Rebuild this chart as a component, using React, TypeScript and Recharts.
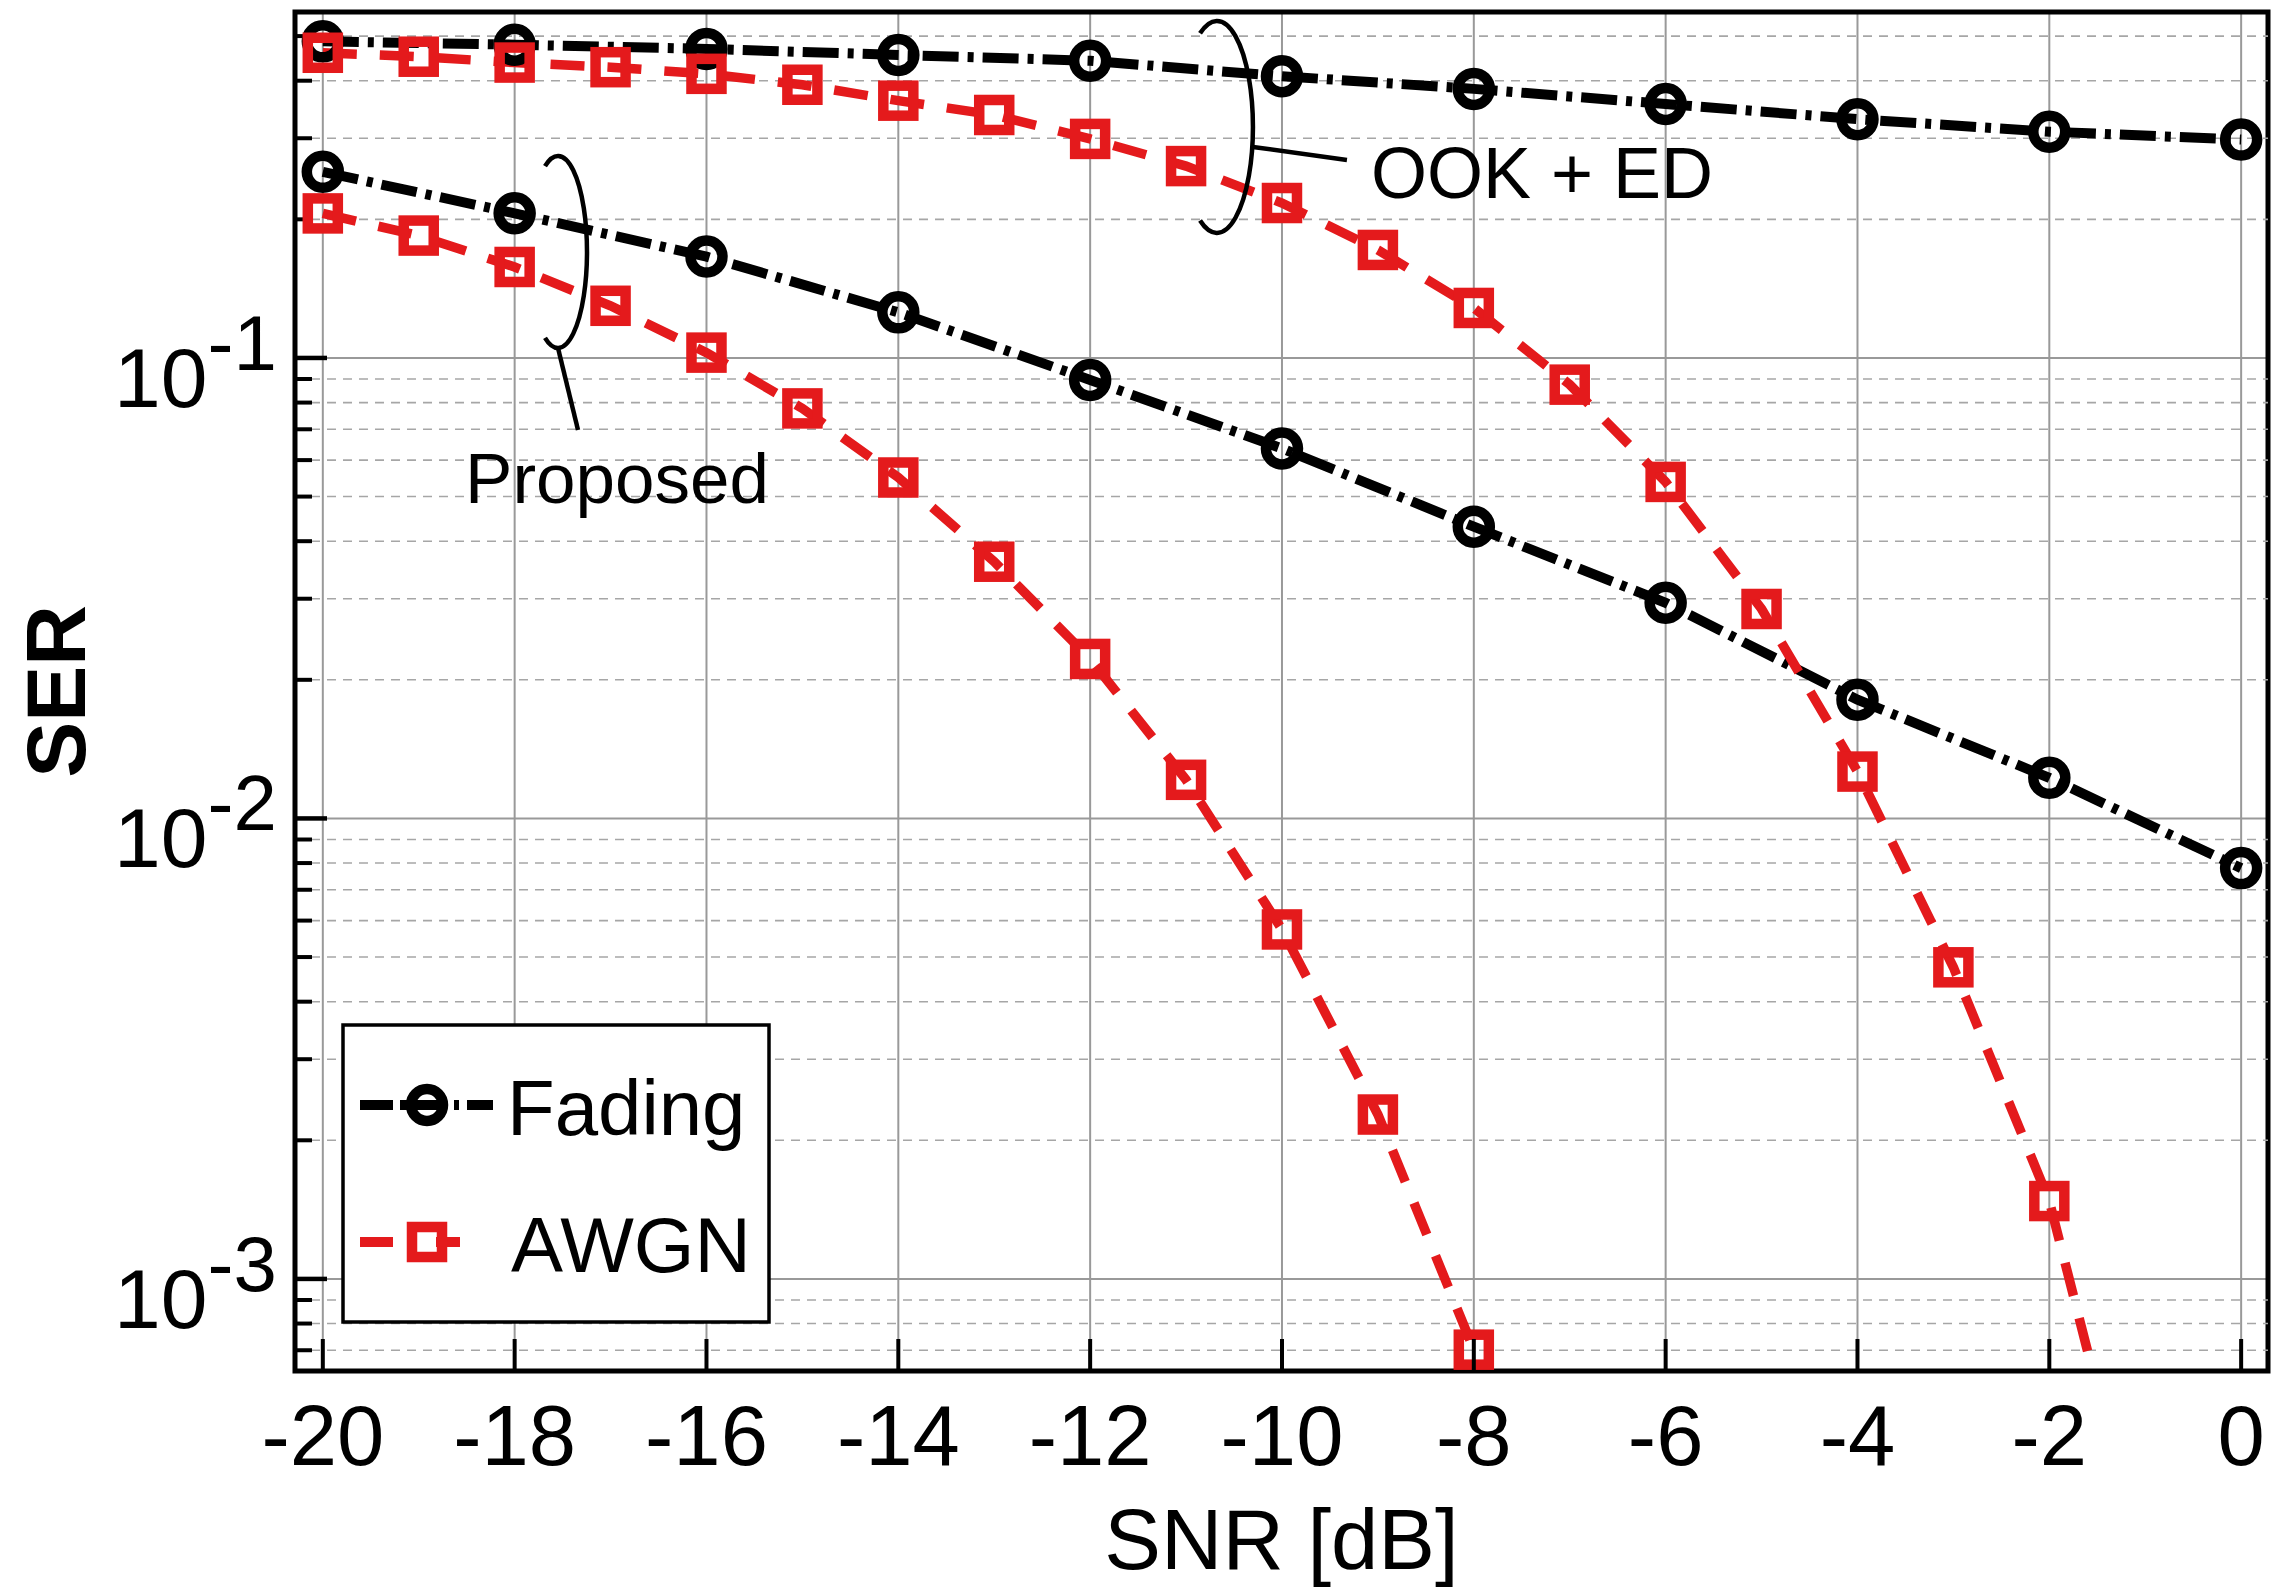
import React from 'react'
import {
  LineChart,
  Line,
  XAxis,
  YAxis,
  CartesianGrid,
  ReferenceLine,
  ReferenceArea,
  ReferenceDot,
} from 'recharts'

const FONT = '"Liberation Sans", Arial, Helvetica, sans-serif'
const RED = '#e41a1c'

// axis ranges
const X_MIN = -20.29
const X_MAX = 0.28
const Y_MIN = 6.31e-4
const Y_MAX = 0.564

const X_TICKS = [-20, -18, -16, -14, -12, -10, -8, -6, -4, -2, 0]
const Y_TICKS = [0.001, 0.01, 0.1]
const Y_MINOR = [
  0.0007, 0.0008, 0.0009,
  0.002, 0.003, 0.004, 0.005, 0.006, 0.007, 0.008, 0.009,
  0.02, 0.03, 0.04, 0.05, 0.06, 0.07, 0.08, 0.09,
  0.2, 0.3, 0.4, 0.5,
]

// SNR grids
const snrEvery2 = [-20, -18, -16, -14, -12, -10, -8, -6, -4, -2, 0]
const snrOokAwgn = [-20, -19, -18, -17, -16, -15, -14, -13, -12, -11, -10, -9, -8, -7, -6, -5, -4, -3, -2, -1]
const snrPropAwgn = [-20, -19, -18, -17, -16, -15, -14, -13, -12, -11, -10, -9, -8]

// SER values
const serOokFading = [0.487, 0.479, 0.469, 0.455, 0.442, 0.409, 0.384, 0.356, 0.33, 0.31, 0.298]
const serOokAwgn = [
  0.46, 0.451, 0.438, 0.428, 0.414, 0.392, 0.362, 0.337, 0.299, 0.261,
  0.217, 0.1716, 0.1284, 0.0875, 0.0538, 0.0285, 0.01264, 0.00475, 0.001476, 0.000225,
]
const serPropFading = [0.2536, 0.2061, 0.166, 0.1256, 0.0896, 0.0636, 0.043, 0.0294, 0.01811, 0.01225, 0.0078]
const serPropAwgn = [
  0.206, 0.1844, 0.1576, 0.1298, 0.1027, 0.0777, 0.055, 0.0361, 0.0222, 0.01213,
  0.00574, 0.002275, 0.000702,
]

const toPoints = (snr: number[], ser: number[]) => snr.map((s, i) => ({ snr: s, ser: ser[i] }))

const ookFading = toPoints(snrEvery2, serOokFading)
const ookAwgn = toPoints(snrOokAwgn, serOokAwgn)
const propFading = toPoints(snrEvery2, serPropFading)
const propAwgn = toPoints(snrPropAwgn, serPropAwgn)

const renderCircle = (props: any) => {
  const { cx, cy, index } = props
  if (cx == null || cy == null) return <g key={`c-${index}`} />
  return <circle key={`c-${index}`} cx={cx} cy={cy} r={16} fill="none" stroke="#000" strokeWidth={10.5} />
}

const renderSquare = (props: any) => {
  const { cx, cy, index } = props
  if (cx == null || cy == null) return <g key={`s-${index}`} />
  return (
    <rect key={`s-${index}`} x={cx - 15} y={cy - 15} width={30} height={30} fill="none" stroke={RED} strokeWidth={10.5} />
  )
}

const renderXTick = (props: any) => {
  const { x, y, payload } = props
  return (
    <g>
      <line x1={x} x2={x} y1={y} y2={y - 32} stroke="#000" strokeWidth={4} />
      <text x={x} y={y + 94} textAnchor="middle" fontSize={85} fontFamily={FONT} fill="#000">
        {payload.value}
      </text>
    </g>
  )
}

const renderYTick = (props: any) => {
  const { x, y, payload } = props
  const exp = Math.round(Math.log10(payload.value))
  return (
    <g>
      <line x1={x} x2={x + 32} y1={y} y2={y} stroke="#000" strokeWidth={4.5} />
      <text x={x - 181} y={y + 49} fontSize={84} fontFamily={FONT} fill="#000">
        10
        <tspan dy={-37} fontSize={78}>{exp}</tspan>
      </text>
    </g>
  )
}

const MinorGrid = (p: any) => {
  const left = Math.min(p.x1, p.x2)
  const right = Math.max(p.x1, p.x2)
  return (
    <g>
      <line x1={left} x2={right} y1={p.y1} y2={p.y1} stroke="#a6a6a6" strokeWidth={1.6} strokeDasharray="9 7" />
      <line x1={left} x2={left + 17} y1={p.y1} y2={p.y1} stroke="#000" strokeWidth={4} />
    </g>
  )
}

const bracketPath = (cx: number, cy: number, rx: number, ry: number, deg: number) => {
  const a = (deg * Math.PI) / 180
  const x0 = cx + rx * Math.cos(a)
  const dy = ry * Math.sin(a)
  return `M ${x0} ${cy - dy} A ${rx} ${ry} 0 1 1 ${x0} ${cy + dy}`
}

const OokNote = (props: any) => {
  const { cx, cy } = props
  return (
    <g>
      <path d={bracketPath(cx, cy, 36, 106, 118)} fill="none" stroke="#000" strokeWidth={4.5} />
      <line x1={cx + 36} y1={cy + 20} x2={cx + 130} y2={cy + 33} stroke="#000" strokeWidth={4.5} />
      <text x={cx + 154} y={cy + 71} fontSize={72} fontFamily={FONT} fill="#000">
        OOK + ED
      </text>
    </g>
  )
}

const ProposedNote = (props: any) => {
  const { cx, cy } = props
  return (
    <g>
      <path d={bracketPath(cx, cy, 29, 96, 116.6)} fill="none" stroke="#000" strokeWidth={4.5} />
      <line x1={cx} y1={cy + 96} x2={cx + 20} y2={cy + 178} stroke="#000" strokeWidth={4.5} />
      <text x={cx + 59} y={cy + 251} textAnchor="middle" fontSize={71} fontFamily={FONT} fill="#000">
        Proposed
      </text>
    </g>
  )
}

const renderYTitle = (props: any) => {
  const vb = props.viewBox
  const cx = vb.x + 56
  const cy = vb.y + vb.height / 2
  return (
    <text
      x={cx}
      y={cy}
      transform={`rotate(-90 ${cx} ${cy})`}
      textAnchor="middle"
      dominantBaseline="central"
      fontSize={84}
      fontWeight="bold"
      fontFamily={FONT}
      fill="#000"
    >
      SER
    </text>
  )
}

const renderXTitle = (props: any) => {
  const vb = props.viewBox
  return (
    <text x={vb.x + vb.width / 2} y={vb.y + 198} textAnchor="middle" fontSize={85} fontFamily={FONT} fill="#000">
      SNR [dB]
    </text>
  )
}

const LegendBox = () => (
  <div style={{ position: 'absolute', left: 341, top: 1023 }}>
    <svg width={430} height={301}>
      <rect x={2} y={2} width={426} height={297} fill="#fff" stroke="#000" strokeWidth={3.5} />
      <g stroke="#000" strokeWidth={10}>
        <line x1={19} x2={52} y1={82} y2={82} />
        <line x1={59} x2={98} y1={82} y2={82} />
        <line x1={113} x2={118} y1={82} y2={82} />
        <line x1={126} x2={152} y1={82} y2={82} />
      </g>
      <circle cx={86} cy={82} r={16} fill="none" stroke="#000" strokeWidth={10.5} />
      <g stroke={RED} strokeWidth={10}>
        <line x1={19} x2={52} y1={219} y2={219} />
        <line x1={95} x2={119} y1={219} y2={219} />
      </g>
      <rect x={71} y={204} width={30} height={30} fill="none" stroke={RED} strokeWidth={10.5} />
      <text x={166} y={112} fontSize={78} fontFamily={FONT} fill="#000">Fading</text>
      <text x={170} y={249} fontSize={78} fontFamily={FONT} fill="#000">AWGN</text>
    </svg>
  </div>
)

export default function App() {
  return (
    <div style={{ position: 'relative', width: 2282, height: 1590, background: '#fff' }}>
      <style>{'body{margin:0}'}</style>
      <LineChart width={2282} height={1590} margin={{ top: 12, right: 14, bottom: 0, left: 0 }}>
        <CartesianGrid stroke="#999" strokeWidth={2} fill="none" />
        <XAxis
          dataKey="snr"
          type="number"
          domain={[X_MIN, X_MAX]}
          ticks={X_TICKS}
          interval={0}
          allowDataOverflow
          height={219}
          axisLine={false}
          tickLine={false}
          tickSize={0}
          tickMargin={0}
          tick={renderXTick}
          label={renderXTitle}
        />
        <YAxis
          type="number"
          scale="log"
          domain={[Y_MIN, Y_MAX]}
          ticks={Y_TICKS}
          interval={0}
          allowDataOverflow
          width={295}
          axisLine={false}
          tickLine={false}
          tickSize={0}
          tickMargin={0}
          tick={renderYTick}
          label={renderYTitle}
        />
        {Y_MINOR.map((v) => (
          <ReferenceLine key={`minor-${v}`} y={v} shape={MinorGrid} />
        ))}
        <Line
          data={propFading}
          dataKey="ser"
          type="linear"
          stroke="#000"
          strokeWidth={10}
          strokeDasharray="36 9 6 9"
          dot={renderCircle}
          activeDot={false}
          isAnimationActive={false}
        />
        <Line
          data={ookFading}
          dataKey="ser"
          type="linear"
          stroke="#000"
          strokeWidth={10}
          strokeDasharray="36 9 6 9"
          dot={renderCircle}
          activeDot={false}
          isAnimationActive={false}
        />
        <Line
          data={propAwgn}
          dataKey="ser"
          type="linear"
          stroke={RED}
          strokeWidth={9.5}
          strokeDasharray="34 23"
          dot={renderSquare}
          activeDot={false}
          isAnimationActive={false}
        />
        <Line
          data={ookAwgn}
          dataKey="ser"
          type="linear"
          stroke={RED}
          strokeWidth={9.5}
          strokeDasharray="34 23"
          dot={renderSquare}
          activeDot={false}
          isAnimationActive={false}
        />
        <ReferenceDot x={-10.678} y={0.3175} r={0} shape={OokNote} />
        <ReferenceDot x={-17.548} y={0.1699} r={0} shape={ProposedNote} />
        <ReferenceArea
          x1={X_MIN}
          x2={X_MAX}
          y1={Y_MIN}
          y2={Y_MAX}
          fill="none"
          fillOpacity={0}
          stroke="#000"
          strokeWidth={5}
          ifOverflow="visible"
        />
      </LineChart>
      <LegendBox />
    </div>
  )
}
